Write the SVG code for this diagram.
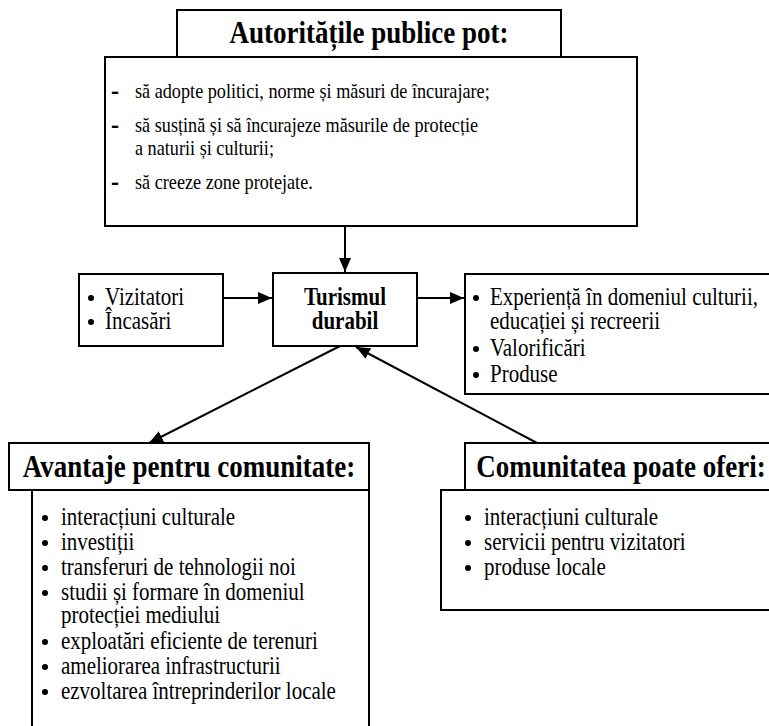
<svg xmlns="http://www.w3.org/2000/svg" width="769" height="726" viewBox="0 0 769 726">
<style>
.box{fill:#fff;stroke:#000;stroke-width:2}
.t{font-family:"Liberation Serif","Times New Roman",serif;font-size:18.2px;fill:#000}
.tm{font-family:"Liberation Serif","Times New Roman",serif;font-size:21px;fill:#000}
.tl{font-family:"Liberation Serif","Times New Roman",serif;font-size:21px;fill:#000}
.d{font-family:"Liberation Serif","Times New Roman",serif;font-size:24px;font-weight:bold;fill:#000}
.h{font-family:"Liberation Serif","Times New Roman",serif;font-weight:bold;fill:#000;text-anchor:middle}
.c{fill:none;stroke:#000;stroke-width:2}
</style>
<defs>
<marker id="ah" viewBox="0 0 14 12" refX="14" refY="6" markerWidth="14" markerHeight="12" markerUnits="userSpaceOnUse" orient="auto">
<path d="M0,0 L14,6 L0,12 z" fill="#000"/>
</marker>
</defs>
<rect width="769" height="726" fill="#fff"/>
<g id="connectors">
<line class="c" x1="345" y1="226" x2="345" y2="272" marker-end="url(#ah)"/>
<line class="c" x1="223" y1="298" x2="272" y2="298" marker-end="url(#ah)"/>
<line class="c" x1="417" y1="298" x2="464" y2="298" marker-end="url(#ah)"/>
<line class="c" x1="340" y1="346" x2="149" y2="443" marker-end="url(#ah)"/>
<line class="c" x1="537" y1="443" x2="356" y2="347" marker-end="url(#ah)"/>
</g>
<g id="autoritati">
<rect class="box" x="177" y="10" width="384" height="47"/>
<text class="h" x="369" y="43" font-size="27" transform="matrix(1 0 0 1.15 0 -6.45)">Autoritățile publice pot:</text>
<rect class="box" x="105" y="57" width="532" height="169"/>
<text class="d" x="111" y="99" transform="matrix(1 0 0 1.15 0 -14.85)">-</text>
<text class="d" x="111" y="133" transform="matrix(1 0 0 1.15 0 -19.95)">-</text>
<text class="d" x="111" y="190" transform="matrix(1 0 0 1.15 0 -28.5)">-</text>
<g class="t">
<text x="135" y="98" transform="matrix(1 0 0 1.15 0 -14.7)">să adopte politici, norme și măsuri de încurajare;</text>
<text x="135" y="132" transform="matrix(1 0 0 1.15 0 -19.8)">să susțină și să încurajeze măsurile de protecție</text>
<text x="135" y="155" transform="matrix(1 0 0 1.15 0 -23.25)">a naturii și culturii;</text>
<text x="135" y="189" transform="matrix(1 0 0 1.15 0 -28.35)">să creeze zone protejate.</text>
</g>
</g>
<g id="intrari">
<rect class="box" x="79" y="274" width="144" height="72"/>
<g class="tm">
<circle cx="91" cy="298" r="3"/>
<text x="105" y="305" transform="matrix(1 0 0 1.15 0 -45.75)">Vizitatori</text>
<circle cx="91" cy="322" r="3"/>
<text x="105" y="329" transform="matrix(1 0 0 1.15 0 -49.35)">Încasări</text>
</g>
</g>
<g id="turism">
<rect class="box" x="273" y="273" width="144" height="73"/>
<text class="h" x="345" y="305" font-size="21" transform="matrix(1 0 0 1.15 0 -45.75)">Turismul</text>
<text class="h" x="345" y="329" font-size="21" transform="matrix(1 0 0 1.15 0 -49.35)">durabil</text>
</g>
<g id="rezultate">
<rect class="box" x="465" y="274" width="312" height="120"/>
<g class="tm">
<circle cx="476" cy="298" r="3"/>
<text x="490" y="305" transform="matrix(1 0 0 1.15 0 -45.75)">Experiență în domeniul culturii,</text>
<text x="490" y="329" transform="matrix(1 0 0 1.15 0 -49.35)">educației și recreerii</text>
<circle cx="476" cy="349" r="3"/>
<text x="490" y="356" transform="matrix(1 0 0 1.15 0 -53.4)">Valorificări</text>
<circle cx="476" cy="375" r="3"/>
<text x="490" y="382" transform="matrix(1 0 0 1.15 0 -57.3)">Produse</text>
</g>
</g>
<g id="avantaje">
<rect class="box" x="32" y="490" width="337" height="240"/>
<rect class="box" x="9" y="443" width="360" height="47"/>
<text class="h" x="189" y="477" font-size="27" transform="matrix(1 0 0 1.15 0 -71.55)">Avantaje pentru comunitate:</text>
<g class="tl">
<circle cx="45" cy="518" r="3"/><text x="61" y="525" transform="matrix(1 0 0 1.15 0 -78.75)">interacțiuni culturale</text>
<circle cx="45" cy="543" r="3"/><text x="61" y="550" transform="matrix(1 0 0 1.15 0 -82.5)">investiții</text>
<circle cx="45" cy="568" r="3"/><text x="61" y="575" transform="matrix(1 0 0 1.15 0 -86.25)">transferuri de tehnologii noi</text>
<circle cx="45" cy="593" r="3"/><text x="61" y="600" transform="matrix(1 0 0 1.15 0 -90)">studii și formare în domeniul</text>
<text x="61" y="623" transform="matrix(1 0 0 1.15 0 -93.45)">protecției mediului</text>
<circle cx="45" cy="642" r="3"/><text x="61" y="649" transform="matrix(1 0 0 1.15 0 -97.35)">exploatări eficiente de terenuri</text>
<circle cx="45" cy="667" r="3"/><text x="61" y="674" transform="matrix(1 0 0 1.15 0 -101.1)">ameliorarea infrastructurii</text>
<circle cx="45" cy="692" r="3"/><text x="61" y="699" transform="matrix(1 0 0 1.15 0 -104.85)">ezvoltarea întreprinderilor locale</text>
</g>
</g>
<g id="comunitatea">
<rect class="box" x="441" y="490" width="336" height="120"/>
<rect class="box" x="465" y="443" width="312" height="47"/>
<text class="h" x="621" y="477" font-size="27" transform="matrix(1 0 0 1.15 0 -71.55)">Comunitatea poate oferi:</text>
<g class="tl">
<circle cx="468" cy="518" r="3"/><text x="484" y="525" transform="matrix(1 0 0 1.15 0 -78.75)">interacțiuni culturale</text>
<circle cx="468" cy="543" r="3"/><text x="484" y="550" transform="matrix(1 0 0 1.15 0 -82.5)">servicii pentru vizitatori</text>
<circle cx="468" cy="568" r="3"/><text x="484" y="575" transform="matrix(1 0 0 1.15 0 -86.25)">produse locale</text>
</g>
</g>
</svg>
